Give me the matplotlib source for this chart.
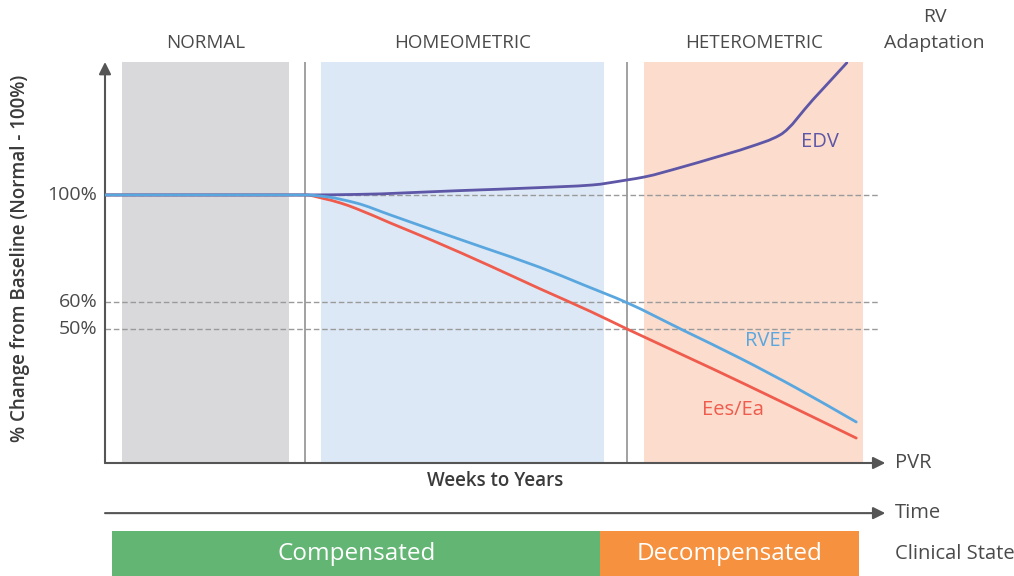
import matplotlib
matplotlib.use("Agg")
import matplotlib.pyplot as plt
import numpy as np
from matplotlib.path import Path
from matplotlib.patches import PathPatch

plt.rcParams['font.family'] = ['Open Sans', 'DejaVu Sans']

# phases of RV adaptation (x in time units, 0..100 along the PVR axis)
phase_names = ['NORMAL', 'HOMEOMETRIC', 'HETEROMETRIC']
phase_start = [2.2, 27.5, 68.7]
phase_end = [23.4, 63.6, 96.6]
phase_colors = ['#d9d9db', '#dce8f5', '#fbdccd']
phase_dividers = [25.5, 66.5]

# reference levels (%)
ref_levels = [100, 60, 50]
ref_labels = ['100%', '60%', '50%']

# curves
edv_x = [0, 25.5, 32, 45, 55, 62, 66.5, 68.7, 73.5, 77.5, 82, 86, 90.2, 94.5]
edv_y = [100, 100, 100.2, 101.6, 102.7, 103.7, 105.6, 106.7, 110.4, 113.8, 117.8, 122.4, 135.6, 149.3]

rvef_x = [0, 25.5, 28, 32, 36.3, 41.8, 48, 55.4, 61, 66.5, 73.6, 80.9, 88, 95.7]
rvef_y = [100, 100, 99.4, 97.0, 92.6, 86.9, 80.6, 73.0, 66.4, 59.8, 49.6, 39.1, 28.1, 15.3]

ees_x = [0, 25.5, 27.8, 30, 32.1, 36.3, 41.8, 49, 55.4, 61.8, 66.5, 77.5, 86, 95.7]
ees_y = [100, 100, 98.7, 97.0, 94.8, 89.6, 82.9, 73.6, 65.0, 56.6, 50.0, 35.0, 23.1, 9.3]

# clinical state bar
clinical_states = ['Compensated', 'Decompensated']
state_start = [0.9, 63.1]
state_end = [63.1, 96.1]
state_colors = ['#62b573', '#f5913f']


def smooth_path(x, y):
    # monotone cubic (PCHIP-style tangents) drawn as bezier segments
    x = np.asarray(x, float)
    y = np.asarray(y, float)
    h = np.diff(x)
    d = np.diff(y) / h
    m = np.zeros_like(x)
    m[0], m[-1] = d[0], d[-1]
    for i in range(1, len(x) - 1):
        if d[i - 1] * d[i] > 0:
            w1 = 2 * h[i] + h[i - 1]
            w2 = h[i] + 2 * h[i - 1]
            m[i] = (w1 + w2) / (w1 / d[i - 1] + w2 / d[i])
    verts = [(x[0], y[0])]
    codes = [Path.MOVETO]
    for i in range(len(x) - 1):
        verts += [(x[i] + h[i] / 3, y[i] + m[i] * h[i] / 3),
                  (x[i + 1] - h[i] / 3, y[i + 1] - m[i + 1] * h[i] / 3),
                  (x[i + 1], y[i + 1])]
        codes += [Path.CURVE4] * 3
    return Path(verts, codes)


fig = plt.figure(figsize=(10.14, 5.76), dpi=100)
W, H = 1014, 576
ax = fig.add_axes([105 / W, 1 - 463 / H, 785 / W, 401 / H])
ax.set_xlim(0, 100)
ax.set_ylim(0, 149.6)
ax.axis('off')

txt = '#4a4a4a'
axis_col = '#555555'

# phase bands and headings
for name, s, e, c in zip(phase_names, phase_start, phase_end, phase_colors):
    ax.axvspan(s, e, ymin=0, ymax=1, color=c, lw=0, zorder=0)
    ax.text((s + e) / 2, 156.7, name, ha='center', va='center',
            fontsize=13.5, color=txt, clip_on=False)
for d in phase_dividers:
    ax.axvline(d, color='#9a9a9a', lw=1.3, zorder=1)

ax.text(105.7, 166.4, 'RV', ha='center', va='center', fontsize=14,
        color=txt, clip_on=False)
ax.text(105.7, 156.7, 'Adaptation', ha='center', va='center', fontsize=14,
        color=txt, clip_on=False)

# dashed reference lines
for lvl, lab in zip(ref_levels, ref_labels):
    ax.plot([0, 98.5], [lvl, lvl], color='#9a9a9a', lw=1, zorder=1,
            dashes=(4, 2))
    ax.text(-1.0, lvl, lab, ha='right', va='center', fontsize=14, color=txt)

# curves
for cx, cy, col, z in [(ees_x, ees_y, '#ef5b4c', 3),
                       (edv_x, edv_y, '#5e56a6', 4),
                       (rvef_x, rvef_y, '#5aa7df', 5)]:
    ax.add_patch(PathPatch(smooth_path(cx, cy), fill=False, edgecolor=col,
                           lw=2, zorder=z, capstyle='round'))

ax.text(91.1, 119.8, 'EDV', color='#5e56a6', fontsize=14.5, ha='center', va='center')
ax.text(84.5, 45.5, 'RVEF', color='#5aa7df', fontsize=14.5, ha='center', va='center')
ax.text(80.0, 19.8, 'Ees/Ea', color='#ef5b4c', fontsize=14.5, ha='center', va='center')

# axes arrows
arrow = dict(arrowstyle='-|>', color=axis_col, lw=1.5, mutation_scale=18,
             shrinkA=0, shrinkB=0)
ax.annotate('', xy=(0, 149.6), xytext=(0, 0), arrowprops=arrow, annotation_clip=False)
ax.annotate('', xy=(99.4, 0), xytext=(0, 0), arrowprops=arrow, annotation_clip=False)
ax.text(100.6, 0, 'PVR', ha='left', va='center', fontsize=14.5, color=txt,
        clip_on=False)
ax.text(49.7, -6.9, 'Weeks to Years', ha='center', va='center', fontsize=13.5,
        color='#3a3a3a', fontweight='semibold', clip_on=False)

ax.text(-10.8, 76.5, '% Change from Baseline (Normal - 100%)', rotation=90,
        ha='center', va='center', fontsize=13.5, color='#3a3a3a',
        fontweight='semibold', clip_on=False)

# time arrow
ax.annotate('', xy=(99.4, -18.7), xytext=(0, -18.7), arrowprops=arrow,
            annotation_clip=False)
ax.text(100.6, -18.7, 'Time', ha='left', va='center', fontsize=14.5, color=txt,
        clip_on=False)

# clinical state bar
bar_top, bar_bot = -25.4, -42.2
for name, s, e, c in zip(clinical_states, state_start, state_end, state_colors):
    b = ax.barh((bar_top + bar_bot) / 2, e - s, left=s, height=bar_top - bar_bot,
                color=c, lw=0)
    for p in b:
        p.set_clip_on(False)
    ax.text((s + e) / 2, (bar_top + bar_bot) / 2, name, ha='center', va='center',
            fontsize=17.5, color='white', clip_on=False)
ax.text(100.6, (bar_top + bar_bot) / 2, 'Clinical State', ha='left', va='center',
        fontsize=14.5, color=txt, clip_on=False)

fig.savefig('out.png', dpi=100)
